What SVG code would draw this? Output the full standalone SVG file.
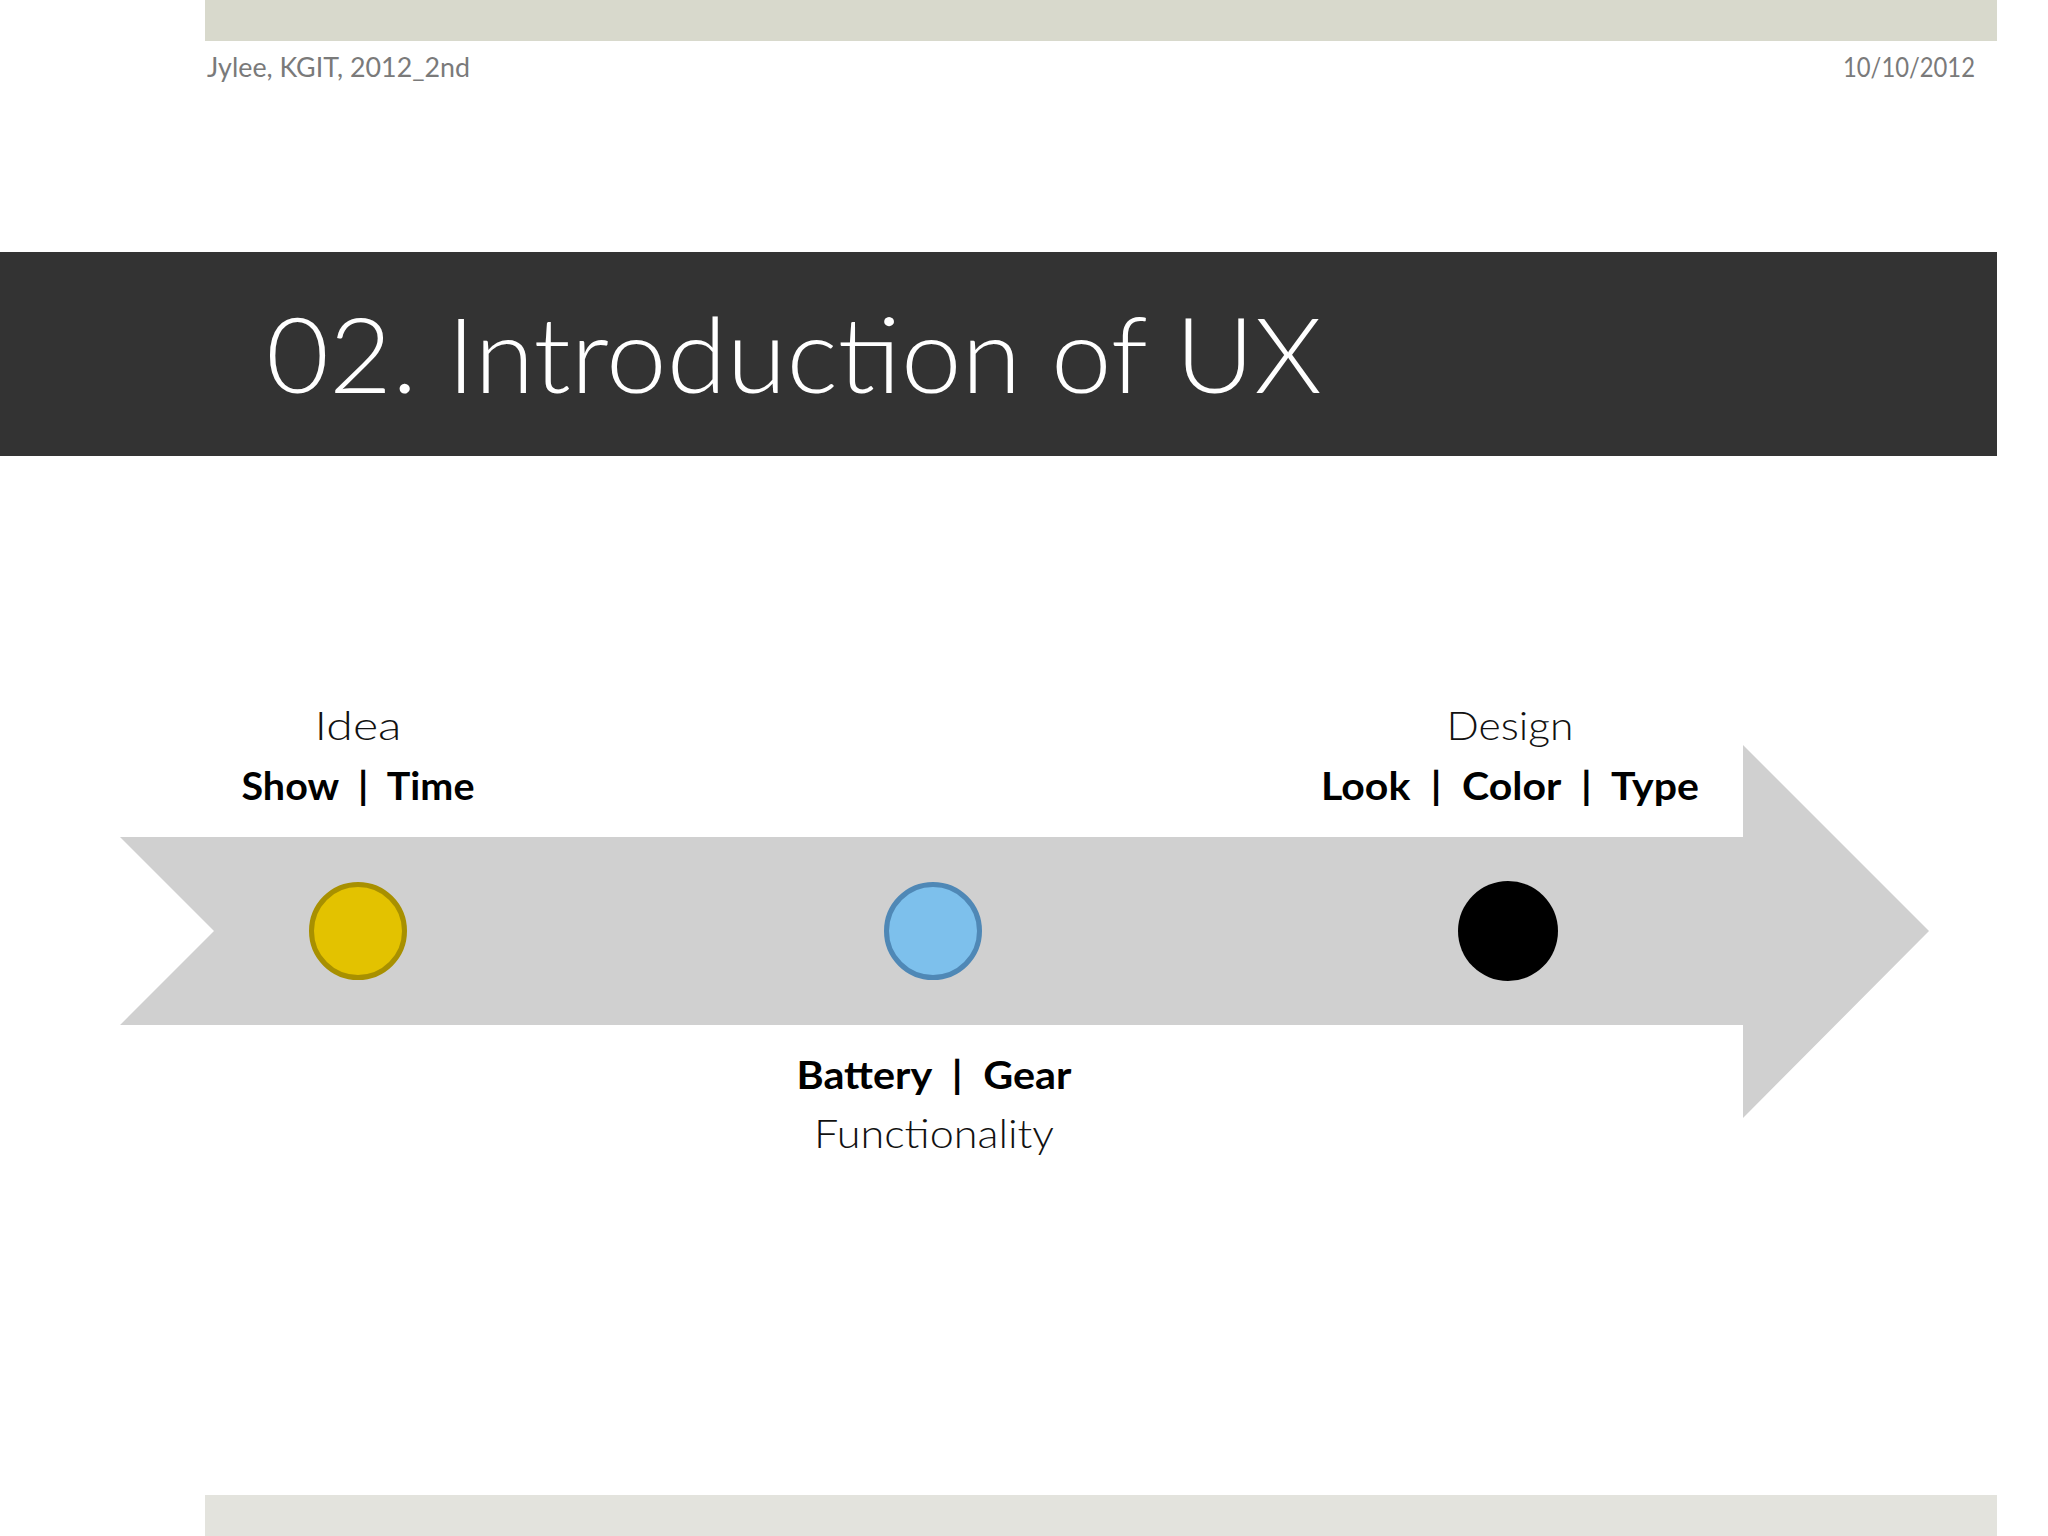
<svg xmlns="http://www.w3.org/2000/svg" width="2048" height="1536" viewBox="0 0 2048 1536">
<style>
.hdr{font-family:"Lato","Liberation Sans",sans-serif;font-size:26px;fill:#7a7a7a}
.title{font-family:"Lato","Liberation Sans",sans-serif;font-weight:300;font-size:104px;fill:#ffffff}
.lbl{font-family:"Lato","Liberation Sans",sans-serif;font-weight:300;font-size:40px;fill:#111111;text-anchor:middle}
.bold{font-family:"Lato","Liberation Sans",sans-serif;font-weight:700;font-size:39px;fill:#000000;text-anchor:middle;word-spacing:10px}
</style>
<rect width="2048" height="1536" fill="#ffffff"/>
<g id="top-bar"><rect x="205" y="0" width="1792" height="41" fill="#d8d9cc"/></g>
<g id="header">
<text class="hdr" x="207" y="77" textLength="263" lengthAdjust="spacingAndGlyphs">Jylee, KGIT, 2012_2nd</text>
<text class="hdr" x="1975" y="77" text-anchor="end" textLength="132" lengthAdjust="spacingAndGlyphs">10/10/2012</text>
</g>
<g id="title-band">
<rect x="0" y="252" width="1997" height="204" fill="#333333"/>
<text class="title" x="266" y="393" textLength="1056" lengthAdjust="spacingAndGlyphs">02. Introduction of UX</text>
</g>
<g id="connectors">
<polygon points="120,837 1743,837 1743,745 1929,931 1743,1118 1743,1025 120,1025 214,931" fill="#d0d0d0"/>
</g>
<g id="node-idea">
<text class="lbl" x="358" y="740" textLength="87" lengthAdjust="spacingAndGlyphs">Idea</text>
<text class="bold" x="358" y="800" textLength="233" lengthAdjust="spacingAndGlyphs">Show | Time</text>
<circle cx="358" cy="931" r="46.5" fill="#e3c200" stroke="#a89000" stroke-width="5"/>
</g>
<g id="node-functionality">
<circle cx="933" cy="931" r="46.5" fill="#7dc0ec" stroke="#4f88b6" stroke-width="5"/>
<text class="bold" x="934" y="1089" textLength="275" lengthAdjust="spacingAndGlyphs">Battery | Gear</text>
<text class="lbl" x="934" y="1148" font-size="42" textLength="240" lengthAdjust="spacingAndGlyphs">Functionality</text>
</g>
<g id="node-design">
<text class="lbl" x="1510" y="740" textLength="127" lengthAdjust="spacingAndGlyphs">Design</text>
<text class="bold" x="1510" y="800" textLength="378" lengthAdjust="spacingAndGlyphs">Look | Color | Type</text>
<circle cx="1508" cy="931" r="50" fill="#000000"/>
</g>
<g id="bottom-bar"><rect x="205" y="1495" width="1792" height="41" fill="#e3e3dd"/></g>
</svg>
